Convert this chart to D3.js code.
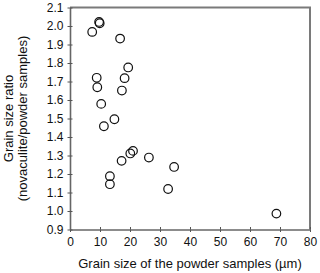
<!DOCTYPE html>
<meta charset="utf-8">
<style>
body{margin:0;background:#fff;}
text{font-family:"Liberation Sans",Arial,sans-serif;fill:#111;}
.tick text{font-size:12px;}
.title{font-size:13px;text-anchor:middle;}
</style>
<body>
<script src="https://d3js.org/d3.v7.min.js"></script>
<script>
// grain size of the powder samples (um)
var grainSize = [7.4, 9.7, 9.9, 16.7, 19.4, 8.9, 9.1, 18.2, 17.3, 10.4, 14.8,
                 11.3, 13.3, 13.3, 17.2, 20.1, 21.0, 26.3, 34.7, 32.7, 68.8];
// grain size ratio (novaculite/powder samples)
var sizeRatio = [1.968, 2.022, 2.015, 1.932, 1.776, 1.72, 1.669, 1.718, 1.651, 1.579, 1.496,
                 1.458, 1.188, 1.145, 1.271, 1.311, 1.325, 1.289, 1.238, 1.119, 0.986];
var xTicks = [0, 10, 20, 30, 40, 50, 60, 70, 80];
var yTicks = [0.9, 1.0, 1.1, 1.2, 1.3, 1.4, 1.5, 1.6, 1.7, 1.8, 1.9, 2.0, 2.1];

var width = 320, height = 273;
var svg = d3.select("body").append("svg").attr("width", width).attr("height", height);

var mLeft = 70, mRight = 310, mTop = 7.5, mBottom = 229.5;
var x = d3.scaleLinear().domain([0, 80]).range([mLeft, mRight]);
var y = d3.scaleLinear().domain([0.9, 2.1]).range([mBottom, mTop]);

// frame top/right
svg.append("path")
    .attr("d", "M" + mLeft + "," + mTop + "H" + mRight + "V" + mBottom)
    .attr("fill", "none").attr("stroke", "#7a7a7a").attr("stroke-width", 2);

// x axis
var gx = svg.append("g").attr("transform", "translate(0," + mBottom + ")")
    .call(d3.axisBottom(x).tickValues(xTicks).tickSize(2.5).tickSizeOuter(0).tickPadding(5).tickFormat(d3.format("d")));
gx.selectAll(".tick line").clone().attr("y2", -2.5);

// y axis
var gy = svg.append("g").attr("transform", "translate(" + mLeft + ",0)")
    .call(d3.axisLeft(y).tickValues(yTicks).tickSize(2.5).tickSizeOuter(0).tickPadding(4).tickFormat(d3.format(".1f")));
gy.selectAll(".tick line").clone().attr("x2", 2.5);

[gx, gy].forEach(function(g){
    g.attr("font-family", null).attr("font-size", null);
    g.select(".domain").attr("stroke", "#666").attr("stroke-width", 1.6);
    g.selectAll(".tick line").attr("stroke", "#555");
    g.selectAll(".tick text").attr("fill", "#111");
});

// points
svg.append("g").selectAll("circle")
    .data(grainSize)
    .join("circle")
    .attr("cx", function(d){ return x(d); })
    .attr("cy", function(d, i){ return y(sizeRatio[i]); })
    .attr("r", 4.3)
    .attr("fill", "none")
    .attr("stroke", "#111")
    .attr("stroke-width", 1.2);

// titles
svg.append("text").attr("class", "title")
    .attr("x", (mLeft + mRight) / 2).attr("y", 268)
    .text("Grain size of the powder samples (\u00b5m)");

var yt = svg.append("text").attr("class", "title")
    .attr("transform", "translate(0," + (mTop + mBottom) / 2 + ") rotate(-90)");
yt.append("tspan").attr("x", 0).attr("y", 13).text("Grain size ratio");
yt.append("tspan").attr("x", 0).attr("y", 27).text("(novaculite/powder samples)");
</script>
</body>
</html>
